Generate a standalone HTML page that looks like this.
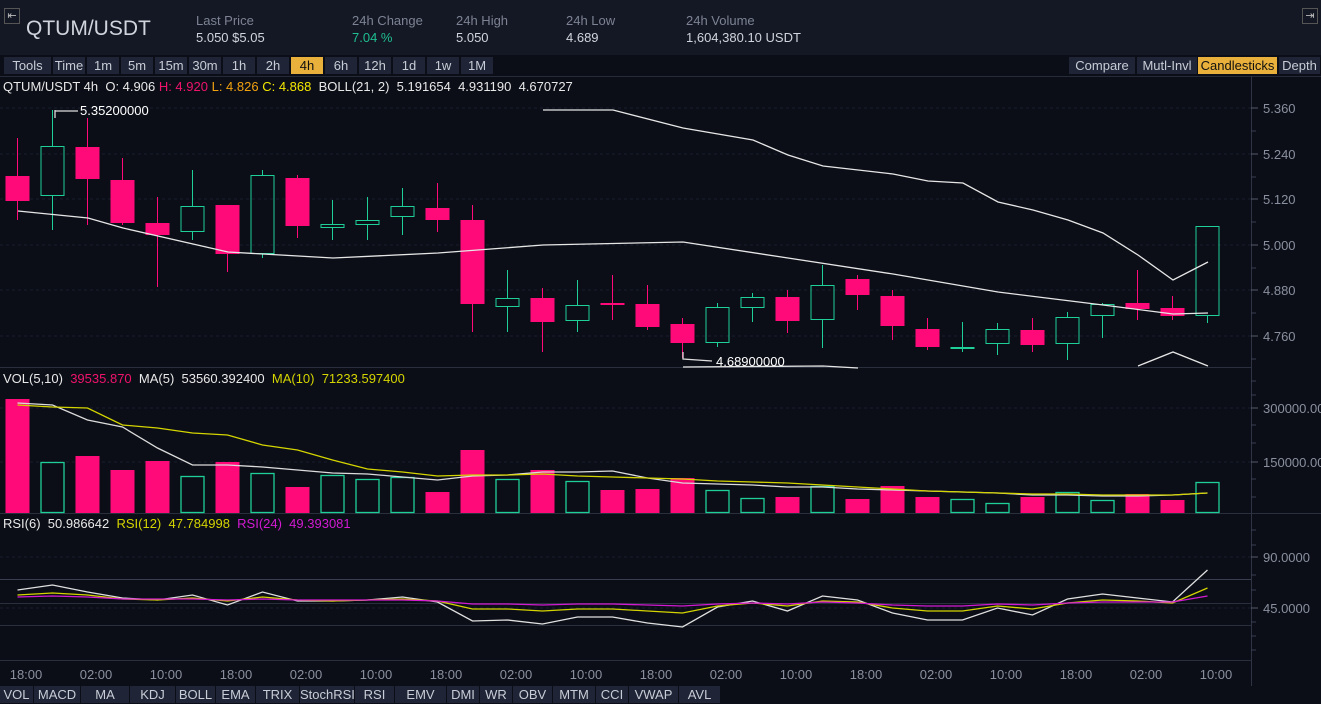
<!DOCTYPE html>
<html><head><meta charset="utf-8"><style>
body{margin:0;width:1321px;height:704px;background:#0b0e17;overflow:hidden;font-family:"Liberation Sans",sans-serif;color:#c8ccd6}
#hdr{position:absolute;left:0;top:0;width:1321px;height:55px;background:#141824}
.t{position:absolute;font-size:13px;white-space:nowrap}
.btn{position:absolute;top:57px;height:17px;background:#1f2536;color:#c8ccd6;font-size:13px;line-height:17px;text-align:center;border-right:1px solid #0b0e17}
.on{background:#e9b03b;color:#111}
.bb{position:absolute;top:686px;height:17px;background:#1f2536;color:#c8ccd6;font-size:13px;line-height:17px;text-align:center;border-right:1px solid #0b0e17}
svg{position:absolute;left:0;top:0}
</style></head><body>
<div id="hdr"></div>
<div style="position:absolute;left:4px;top:8px;width:14px;height:14px;border:1px solid #555;color:#bbb;font-size:11px;line-height:14px;text-align:center">⇤</div>
<div style="position:absolute;left:1302px;top:8px;width:14px;height:14px;border:1px solid #555;color:#bbb;font-size:11px;line-height:14px;text-align:center">⇥</div>
<div class="t" style="left:26px;top:17px;font-size:21px;color:#d0d4dc">QTUM/USDT</div>
<div class="t" style="left:196px;top:13px;color:#7d8394">Last Price</div>
<div class="t" style="left:196px;top:30px;color:#d0d4dc">5.050 $5.05</div>
<div class="t" style="left:352px;top:13px;color:#7d8394">24h Change</div>
<div class="t" style="left:352px;top:30px;color:#1fbf8f">7.04 %</div>
<div class="t" style="left:456px;top:13px;color:#7d8394">24h High</div>
<div class="t" style="left:456px;top:30px;color:#d0d4dc">5.050</div>
<div class="t" style="left:566px;top:13px;color:#7d8394">24h Low</div>
<div class="t" style="left:566px;top:30px;color:#d0d4dc">4.689</div>
<div class="t" style="left:686px;top:13px;color:#7d8394">24h Volume</div>
<div class="t" style="left:686px;top:30px;color:#d0d4dc">1,604,380.10 USDT</div>
<div id="btns"></div>
<div class="t" style="left:3px;top:79px;color:#e8e8e8">QTUM/USDT 4h &nbsp;O: 4.906 <span style="color:#f0136c">H: 4.920</span> <span style="color:#f2a10f">L: 4.826</span> <span style="color:#f5e800">C: 4.868</span> &nbsp;BOLL(21, 2) &nbsp;5.191654 &nbsp;4.931190 &nbsp;4.670727</div>
<div class="t" style="left:3px;top:371px;color:#e8e8e8">VOL(5,10) &nbsp;<span style="color:#f0136c">39535.870</span> &nbsp;MA(5) &nbsp;53560.392400 &nbsp;<span style="color:#d4d400">MA(10) &nbsp;71233.597400</span></div>
<div class="t" style="left:3px;top:516px;color:#e8e8e8">RSI(6) &nbsp;50.986642 &nbsp;<span style="color:#d4d400">RSI(12) &nbsp;47.784998</span> &nbsp;<span style="color:#d21ad2">RSI(24) &nbsp;49.393081</span></div>
<svg id="s" width="1321" height="704"></svg>
<script>
var b=document.getElementById('btns'),h='';
var top1=[["Tools",4,48],["Time",53,33],["1m",87,33],["5m",121,33],["15m",155,33],["30m",189,33],["1h",223,33],["2h",257,33],["4h",291,33,1],["6h",325,33],["12h",359,33],["1d",393,33],["1w",427,33],["1M",461,33]];
top1.forEach(function(a){h+='<div class="btn'+(a[3]?' on':'')+'" style="left:'+a[1]+'px;width:'+(a[2]-1)+'px">'+a[0]+'</div>'});
[["Compare",1069,67],["Mutl-Invl",1137,61],["Candlesticks",1198,80,1],["Depth",1279,42]].forEach(function(a){h+='<div class="btn'+(a[3]?' on':'')+'" style="left:'+a[1]+'px;width:'+(a[2]-1)+'px">'+a[0]+'</div>'});
var bot=[["VOL",0,34,1],["MACD",34,47],["MA",81,49],["KDJ",130,46],["BOLL",176,40,1],["EMA",216,40],["TRIX",256,44],["StochRSI",300,55],["RSI",355,40,1],["EMV",395,52],["DMI",447,33],["WR",480,33],["OBV",513,40],["MTM",553,43],["CCI",596,33],["VWAP",629,50],["AVL",679,42]];
bot.forEach(function(a){h+='<div class="bb'+(a[3]?' on':'')+'" style="left:'+a[1]+'px;width:'+(a[2]-1)+'px">'+a[0]+'</div>'});
b.innerHTML=h;
var R='#ff0a78',G='#1fcf98',s='';
function L(x1,y1,x2,y2,c,w,d){s+='<line x1="'+x1+'" y1="'+y1+'" x2="'+x2+'" y2="'+y2+'" stroke="'+c+'" stroke-width="'+(w||1)+'"'+(d?' stroke-dasharray="'+d+'"':'')+'/>'}
function T(x,y,t,c,a){s+='<text x="'+x+'" y="'+y+'" fill="'+(c||'#8a909f')+'" font-size="13" font-family="Liberation Sans"'+(a?' text-anchor="'+a+'"':'')+'>'+t+'</text>'}
function P(pts,c){s+='<polyline fill="none" stroke="'+c+'" stroke-width="1.3" points="'+pts.map(function(p){return p.join(',')}).join(' ')+'"/>'}
L(0,76.5,1321,76.5,'#262b3a');
// grid
[108,154,199,245,290,336].forEach(function(y){L(0,y,1251,y,'#1a1f2c',1,'3,3')});
[408,462].forEach(function(y){L(0,y,1251,y,'#1a1f2c',1,'3,3')});
L(0,557,1251,557,'#1a1f2c',1,'3,3');L(0,608,1251,608,'#1a1f2c',1,'3,3');
L(0,579.5,1251,579.5,'#3a3f50');L(0,603.5,1251,603.5,'#2a2f3e');L(0,625.5,1251,625.5,'#2a2f3e');
L(0,367.5,1251,367.5,'#2a2f3e');L(0,513.5,1321,513.5,'#2a2f3e');L(0,660.5,1251,660.5,'#2a2f3e');
L(1251.5,76,1251.5,686,'#2f3444');
// right axis
[[108,'5.360'],[154,'5.240'],[199,'5.120'],[245,'5.000'],[290,'4.880'],[336,'4.760']].forEach(function(a){L(1251,a[1]==0?0:a[0],1258,a[0],'#555b6b');T(1263,a[0]+5,a[1])});
[[408,'300000.00'],[462,'150000.00']].forEach(function(a){L(1251,a[0],1258,a[0],'#555b6b');T(1263,a[0]+5,a[1])});
[[557,'90.0000'],[608,'45.0000']].forEach(function(a){L(1251,a[0],1258,a[0],'#555b6b');T(1263,a[0]+5,a[1])});
[131,177,222,268,313,359,381,395,425,443,479,497,530,545,575,590,622,636,650].forEach(function(y){L(1251,y,1256,y,'#3a3f50')});
// candles [bodyTop,bodyBot,wickTop,wickBot,red?]
var c=[[176,201,138,220,1],[146,196,110,230,0],[147,179,118,225,1],[180,223,158,225,1],[223,235,197,287,1],[206,232,170,240,0],[205,254,205,272,1],[175,254,170,258,0],[178,226,175,238,1],[224,228,200,240,0],[220,225,197,240,0],[206,217,188,235,0],[208,220,183,232,1],[220,304,205,332,1],[298,307,270,332,0],[298,322,288,352,1],[305,321,280,332,0],[303,305,275,320,1],[304,327,285,330,1],[324,343,318,358,1],[307,343,303,347,0],[297,308,293,322,0],[297,321,290,333,1],[285,320,265,348,0],[279,295,275,310,1],[296,326,290,340,1],[329,347,318,350,1],[347,348,322,352,0],[329,344,323,355,0],[330,345,318,352,1],[317,344,312,360,0],[304,316,303,338,0],[303,309,270,320,1],[308,316,296,320,1],[226,316,226,323,0]];
var vt=[399,462,456,470,461,476,462,473,487,475,479,477,492,450,479,470,481,490,489,478,490,498,497,486,499,486,497,499,503,497,492,500,494,500,482];
c.forEach(function(d,i){var x=17.5+35*i,col=d[4]?R:G;
L(x,d[2],x,d[0],col);L(x,d[1],x,d[3],col);
if(d[4])s+='<rect x="'+(x-12)+'" y="'+d[0]+'" width="24" height="'+Math.max(2,d[1]-d[0])+'" fill="'+col+'"/>';
else s+='<rect x="'+(x-11.5)+'" y="'+(d[0]+.5)+'" width="23" height="'+Math.max(1,d[1]-d[0]-1)+'" fill="none" stroke="'+col+'"/>';
var v=vt[i];
if(d[4])s+='<rect x="'+(x-12)+'" y="'+v+'" width="24" height="'+(513-v)+'" fill="'+col+'"/>';
else s+='<rect x="'+(x-11.5)+'" y="'+(v+.5)+'" width="23" height="'+(512-v)+'" fill="none" stroke="'+col+'" stroke-width="1.3"/>';
});
function X(a){return a.map(function(y,i){return [17.5+35*i,y]})}
P([[18,211],[88,218],[123,228],[228,252],[333,258],[438,253],[543,245],[683,242],[788,258],[893,274],[998,292],[1103,305],[1173,314],[1208,313]],'#e6e6e6');
P([[543,110],[613,110],[683,128],[753,140],[788,155],[823,166],[893,174],[928,181],[963,183],[998,202],[1033,210],[1068,220],[1103,233],[1138,255],[1173,280],[1208,262],[1208,226]].slice(0,16),'#e6e6e6');
P([[683,367],[823,366],[858,368]],'#e6e6e6');P([[1138,366],[1173,352],[1208,366]],'#e6e6e6');
L(55,112,55,110,'#fff');P([[55,118],[55,111],[78,111]],'#ddd');T(80,115,'5.35200000','#fff');
P([[683,352],[683,359],[712,361]],'#ddd');T(716,366,'4.68900000','#fff');
// MA vol
P(X([403,405,420,427,448,465,465,467,470,473,474,477,480,476,475,472,472,471,478,483,484,485,487,487,489,490,491,492,493,495,495,496,496,495,493]),'#dcdcdc');
P(X([405,407,408,425,428,433,435,445,450,460,469,472,476,475,475,474,476,477,478,479,481,482,483,485,487,489,491,492,493,494,494,495,495,495,493]),'#d4d400');
// RSI
P(X([590,585,592,598,600,595,605,592,601,601,600,597,602,621,620,624,617,617,623,627,607,601,611,596,600,613,620,620,608,615,599,594,598,602,570]),'#e0e0e0');
P(X([595,593,595,599,600,598,601,597,600,601,600,599,601,609,609,611,609,609,611,613,606,603,606,601,602,608,611,611,606,609,603,600,601,603,588]),'#d4d400');
P(X([597,596,597,599,599,599,600,599,600,600,600,600,601,604,604,605,604,604,605,606,604,603,604,602,603,605,606,606,604,605,603,602,602,602,596]),'#d21ad2');
// time labels
['18:00','02:00','10:00','18:00','02:00','10:00','18:00','02:00','10:00','18:00','02:00','10:00','18:00','02:00','10:00','18:00','02:00','10:00'].forEach(function(t,i){T(26+70*i,679,t,'#8a909f','middle')});
document.getElementById('s').innerHTML=s;
</script>
</body></html>
